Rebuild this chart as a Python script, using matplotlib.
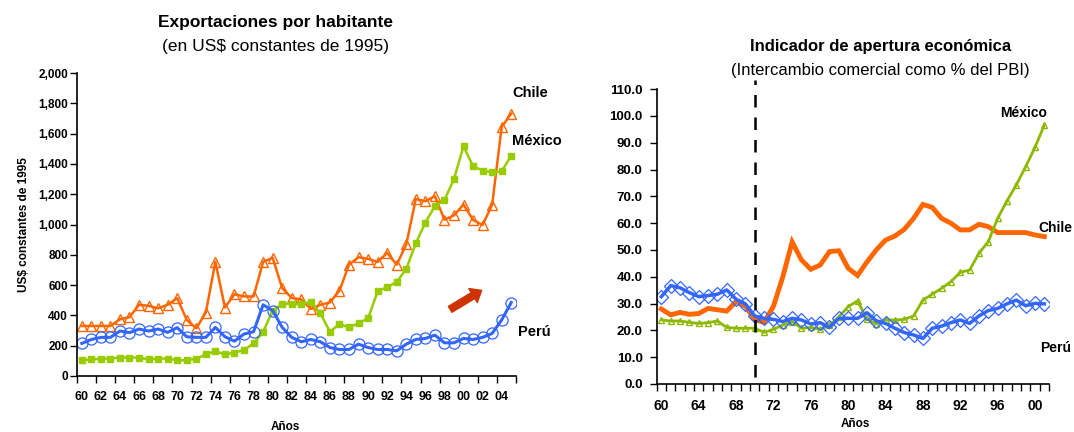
"""
Exportaciones por habitante / Indicador de apertura economica
"""

import numpy as np
from matplotlib import pyplot as plt
from matplotlib.ticker import FuncFormatter, FixedLocator

plt.rcParams['font.family'] = ['Liberation Sans', 'DejaVu Sans']

# ---------------- datos: exportaciones por habitante (US$ de 1995) ----------------
anios_exp = list(range(1960, 2006))
chile_exp = [330, 330, 330, 330, 374, 388, 470, 463, 447, 470,
             514, 370, 315, 419, 753, 452, 540, 525, 525, 753,
             780, 580, 515, 505, 443, 470, 485, 563, 735, 784,
             773, 753, 813, 735, 868, 1168, 1154, 1187, 1032, 1060,
             1132, 1030, 997, 1130, 1644, 1732]
mexico_exp = [104, 109, 115, 115, 122, 122, 122, 109, 115, 115,
              104, 104, 115, 142, 164, 142, 155, 171, 215, 290,
              432, 476, 476, 476, 487, 414, 292, 343, 321, 348,
              381, 558, 587, 620, 707, 875, 1013, 1121, 1161, 1300,
              1517, 1385, 1356, 1345, 1351, 1455]
peru_exp = [215, 241, 255, 255, 297, 286, 310, 297, 310, 288,
            319, 259, 255, 255, 321, 259, 230, 277, 292, 470,
            432, 321, 255, 226, 241, 226, 188, 175, 175, 210,
            188, 175, 175, 166, 210, 241, 248, 270, 219, 219,
            248, 241, 255, 281, 370, 485]

# ---------------- datos: apertura (comercio como % del PBI) ----------------
anios_ap = list(range(1960, 2002))
chile_ap = [28.0, 25.8, 26.7, 26.0, 26.3, 28.2, 27.7, 27.2, 30.8, 29.0,
            24.0, 23.0, 29.0, 40.0, 53.0, 46.3, 42.8, 44.4, 49.4, 49.7,
            43.2, 40.5, 45.5, 50.0, 53.7, 55.2, 57.7, 61.8, 67.0, 65.9,
            61.8, 60.0, 57.5, 57.5, 59.6, 58.7, 56.5, 56.5, 56.5, 56.5,
            55.6, 55.0]
mexico_ap = [23.9, 23.5, 23.5, 23.0, 22.6, 22.9, 23.5, 21.1, 20.8, 20.8,
             20.8, 19.3, 20.4, 22.0, 23.3, 20.8, 21.1, 20.4, 22.0, 25.0,
             28.9, 31.0, 24.3, 22.4, 23.9, 23.9, 24.1, 25.4, 31.3, 33.5,
             35.7, 38.2, 41.7, 42.5, 48.8, 53.1, 61.8, 68.3, 74.3, 81.1,
             88.3, 96.6]
peru_ap = [32.6, 36.7, 35.9, 34.1, 32.6, 33.0, 33.5, 35.1, 31.6, 29.9,
           25.4, 24.5, 24.1, 23.3, 24.5, 23.9, 22.4, 22.9, 21.1, 24.5,
           24.5, 24.5, 26.6, 23.6, 22.6, 20.8, 19.2, 18.3, 17.0, 20.8,
           21.6, 22.9, 23.9, 22.6, 25.4, 27.4, 28.2, 29.9, 31.3, 29.2,
           30.1, 29.9]

naranja = '#FF6600'
verde = '#99CC00'
azul = '#3366FF'

fig = plt.figure(figsize=(10.74, 4.32), dpi=100)

###############################################    izquierda   ###############################################
ax1 = fig.add_axes([77 / 1074, 56 / 432, 439 / 1074, 303 / 432])
ax1.plot(anios_exp, chile_exp, color=naranja, lw=1.8, marker='^', ms=6.5,
         mfc='none', mec=naranja, mew=1.0)
ax1.plot(anios_exp, mexico_exp, color=verde, lw=1.8, marker='s', ms=4.8,
         mfc=verde, mec=verde)
ax1.plot(anios_exp, peru_exp, color=azul, lw=2.2, marker='o', ms=8,
         mfc='none', mec=azul, mew=0.9)

ax1.annotate('', xy=(2001.9, 565), xytext=(1998.6, 440),
             arrowprops=dict(arrowstyle='simple,head_length=0.8,head_width=1.3,tail_width=0.55',
                             color='#CC3300', shrinkA=0, shrinkB=0, mutation_scale=9))

ax1.set_xlim(1959.5, 2005.5)
ax1.set_ylim(0, 2000)
ax1.set_yticks(range(0, 2001, 200))
ax1.yaxis.set_major_formatter(FuncFormatter(lambda v, p: '{:,}'.format(int(v))))
ax1.set_xticks(range(1960, 2005, 2))
ax1.set_xticklabels(['%02d' % (a % 100) for a in range(1960, 2005, 2)])
ax1.xaxis.set_minor_locator(FixedLocator(np.arange(1959.5, 2006, 2)))
ax1.tick_params(axis='x', which='major', length=0, pad=11, labelsize=9)
ax1.tick_params(axis='x', which='minor', length=5, width=1, direction='out')
ax1.tick_params(axis='y', length=5, width=1, pad=1.5, labelsize=8.5)
for lab in ax1.get_xticklabels() + ax1.get_yticklabels():
    lab.set_fontweight('bold')
for s in ['top', 'right']:
    ax1.spines[s].set_visible(False)
ax1.spines['left'].set_linewidth(1.2)
ax1.spines['bottom'].set_linewidth(1.2)
ax1.set_ylabel('US$ constantes de 1995', fontsize=8.5, fontweight='bold', labelpad=6)

fig.text(275 / 1074, 1 - 22 / 432, 'Exportaciones por habitante', ha='center', va='center',
         fontsize=12.5, fontweight='bold')
fig.text(275 / 1074, 1 - 47 / 432, '(en US$ constantes de 1995)', ha='center', va='center',
         fontsize=12.5)
fig.text(285 / 1074, 1 - 427 / 432, 'Años', ha='center', va='center', fontsize=8.5, fontweight='bold')
fig.text(512 / 1074, 1 - 93 / 432, 'Chile', ha='left', va='center', fontsize=10.5, fontweight='bold')
fig.text(512 / 1074, 1 - 141 / 432, 'México', ha='left', va='center', fontsize=10.5, fontweight='bold')
fig.text(518 / 1074, 1 - 332 / 432, 'Perú', ha='left', va='center', fontsize=10.5, fontweight='bold')

###############################################    derecha   ###############################################
ax2 = fig.add_axes([656.7 / 1074, 48 / 432, 392.3 / 1074, 294.8 / 432])
ax2.plot(anios_ap, chile_ap, color=naranja, lw=3.5, solid_joinstyle='miter')
ax2.plot(anios_ap, mexico_ap, color='#8DB800', lw=2, marker='^', ms=5,
         mfc='none', mec='#8DB800', mew=1.0)
ax2.plot(anios_ap, peru_ap, color=azul, lw=2.5, marker='D', ms=7,
         mfc='none', mec=azul, mew=0.9)
ax2.axvline(1970, ymin=0.025, ymax=1.03, color='black', lw=1.8, ls=(0, (5, 4)), clip_on=False)

ax2.set_xlim(1959.5, 2001.5)
ax2.set_ylim(0, 110)
ax2.set_yticks(np.arange(0, 111, 10))
ax2.yaxis.set_major_formatter(FuncFormatter(lambda v, p: '%.1f' % v))
ax2.set_xticks(range(1960, 2002, 4))
ax2.set_xticklabels(['%02d' % (a % 100) for a in range(1960, 2002, 4)])
ax2.xaxis.set_minor_locator(FixedLocator(np.arange(1959.5, 2002, 1)))
ax2.tick_params(axis='x', which='major', length=0, pad=11, labelsize=10)
ax2.tick_params(axis='x', which='minor', length=5, width=1, direction='out')
ax2.tick_params(axis='y', length=5, width=1, pad=5, labelsize=9.5)
for lab in ax2.get_xticklabels() + ax2.get_yticklabels():
    lab.set_fontweight('bold')
for s in ['top', 'right']:
    ax2.spines[s].set_visible(False)
ax2.spines['left'].set_linewidth(1.2)
ax2.spines['bottom'].set_linewidth(1.2)

fig.text(881 / 1074, 1 - 46 / 432, 'Indicador de apertura económica', ha='center', va='center',
         fontsize=12, fontweight='bold')
fig.text(880 / 1074, 1 - 70 / 432, '(Intercambio comercial como % del PBI)', ha='center', va='center',
         fontsize=12)
fig.text(855 / 1074, 1 - 424 / 432, 'Años', ha='center', va='center', fontsize=8.5, fontweight='bold')
fig.text(1000 / 1074, 1 - 113 / 432, 'México', ha='left', va='center', fontsize=10, fontweight='bold')
fig.text(1038 / 1074, 1 - 228 / 432, 'Chile', ha='left', va='center', fontsize=10, fontweight='bold')
fig.text(1040 / 1074, 1 - 348 / 432, 'Perú', ha='left', va='center', fontsize=10, fontweight='bold')

plt.savefig('out.png', dpi=100)
